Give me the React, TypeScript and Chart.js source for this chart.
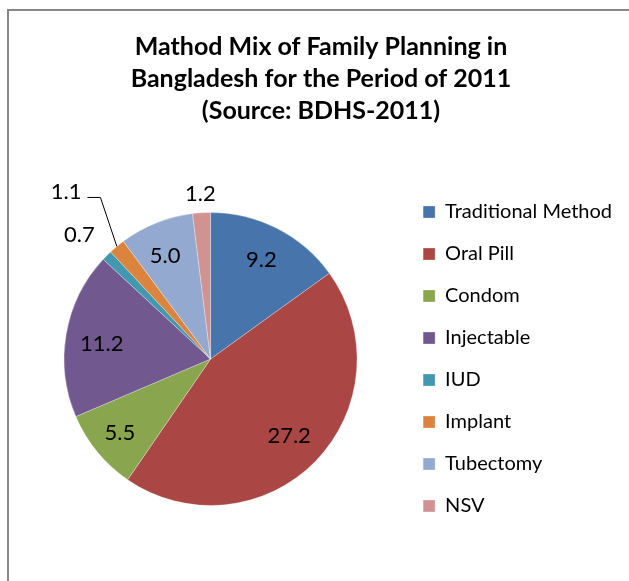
import React, { useEffect, useRef } from "react";
import { Chart, registerables } from "chart.js";

Chart.register(...registerables);

const titleLines = [
  "Mathod Mix of Family Planning in",
  "Bangladesh for the Period of 2011",
  "(Source: BDHS-2011)",
];
const methods = [
  "Traditional Method",
  "Oral Pill",
  "Condom",
  "Injectable",
  "IUD",
  "Implant",
  "Tubectomy",
  "NSV",
];
const shares = [9.2, 27.2, 5.5, 11.2, 0.7, 1.1, 5.0, 1.2];
const sliceColors = [
  "#4674AB",
  "#AA4643",
  "#89A54E",
  "#71588F",
  "#4198AF",
  "#DB843D",
  "#93A9CF",
  "#D19392",
];

// label placement: [radial factor, angle shift in degrees, leader line]
const placement: [number, number, boolean][] = [
  [0.76, 0, false],
  [0.75, 0, false],
  [0.8, 0, false],
  [0.75, -2, false],
  [1.23, -1.6, false],
  [1.51, -1, true],
  [0.77, -2, false],
  [1.13, 0, false],
];

const labelPlugin = {
  id: "sliceLabels",
  afterDatasetsDraw(chart: any) {
    const ctx = chart.ctx;
    const meta = chart.getDatasetMeta(0);
    const values = chart.data.datasets[0].data as number[];
    ctx.save();
    ctx.font = "22px Lato";
    ctx.fillStyle = "#000";
    ctx.textAlign = "center";
    ctx.textBaseline = "middle";
    meta.data.forEach((arc: any, i: number) => {
      const p = arc.getProps(["x", "y", "startAngle", "endAngle", "outerRadius"], true);
      const mid = (p.startAngle + p.endAngle) / 2;
      const [f, shift, leader] = placement[i];
      const a = mid + (shift * Math.PI) / 180;
      const lx = p.x + Math.cos(a) * p.outerRadius * f;
      const ly = p.y + Math.sin(a) * p.outerRadius * f;
      const text = values[i].toFixed(1);
      ctx.fillText(text, lx, ly);
      if (leader) {
        const w = ctx.measureText(text).width;
        const sx = lx + w / 2 + 6;
        const sy = ly + 6;
        const ex = p.x + Math.cos(mid) * p.outerRadius;
        const ey = p.y + Math.sin(mid) * p.outerRadius;
        ctx.beginPath();
        ctx.strokeStyle = "#000";
        ctx.lineWidth = 1;
        ctx.moveTo(sx, sy);
        ctx.lineTo(sx + 13, sy);
        ctx.lineTo(ex, ey);
        ctx.stroke();
      }
    });
    ctx.restore();
  },
};

export default function App() {
  const ref = useRef<HTMLCanvasElement>(null);
  useEffect(() => {
    if (!ref.current) return;
    const chart = new Chart(ref.current, {
      type: "pie",
      data: {
        labels: methods,
        datasets: [
          {
            data: shares,
            backgroundColor: sliceColors,
            borderColor: "rgba(255,255,255,0.5)",
            borderWidth: 0.6,
            radius: 146.5,
          } as any,
        ],
      },
      options: {
        animation: false,
        responsive: false,
        devicePixelRatio: 1,
        layout: { padding: { left: 20, right: 7, top: 0, bottom: 33 } },
        plugins: {
          title: {
            display: true,
            text: titleLines,
            color: "#000",
            font: { family: "Lato", weight: "bold", size: 25, lineHeight: "32px" },
            padding: { top: 31, bottom: 43 },
          },
          legend: {
            display: true,
            position: "right",
            align: "center",
            fullSize: false,
            labels: {
              boxWidth: 12,
              boxHeight: 12,
              padding: 22,
              color: "#000",
              font: { family: "Lato", size: 20 },
            },
          },
          tooltip: { enabled: false },
        },
      } as any,
      plugins: [labelPlugin],
    });
    return () => chart.destroy();
  }, []);
  return (
    <div
      style={{
        position: "absolute",
        left: 0,
        top: 0,
        width: 629,
        height: 581,
        overflow: "hidden",
        background: "#fff",
      }}
    >
      <div
        style={{
          position: "absolute",
          left: 7,
          top: 9,
          width: 800,
          height: 800,
          borderLeft: "2px solid #878787",
          borderTop: "2px solid #878787",
        }}
      />
      <canvas
        ref={ref}
        width={629}
        height={581}
        style={{ position: "absolute", left: 0, top: 0, width: 629, height: 581 }}
      />
    </div>
  );
}
